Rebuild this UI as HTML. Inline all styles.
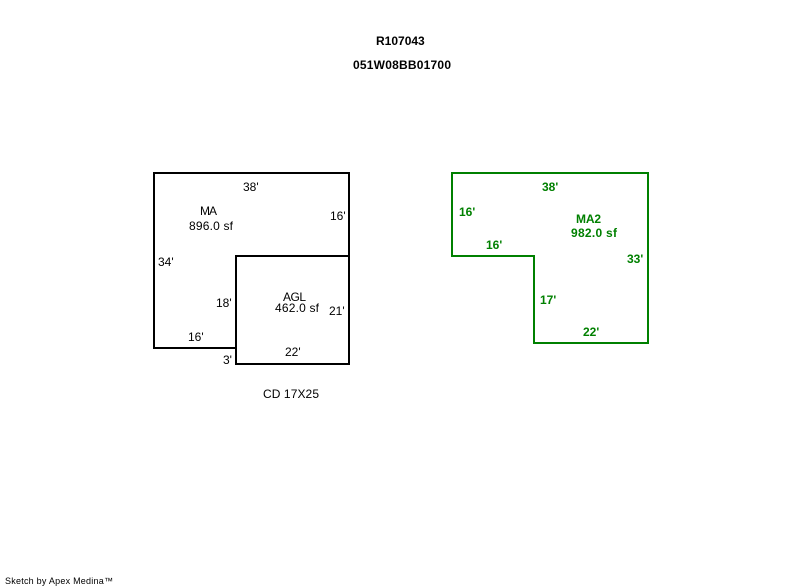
<!DOCTYPE html>
<html>
<head>
<meta charset="utf-8">
<style>
html,body{margin:0;padding:0;background:#fff;width:800px;height:587px;overflow:hidden}
svg{display:block}
text{font-family:"Liberation Sans",Arial,sans-serif;font-size:12px;fill:#000}
.g{fill:#008000;font-weight:bold}
.b{font-weight:bold}
</style>
</head>
<body>
<svg width="800" height="587" viewBox="0 0 800 587" xmlns="http://www.w3.org/2000/svg">
<g fill="none" stroke="#000" stroke-width="2" shape-rendering="crispEdges">
<path d="M154 173H349V364H236V348H154Z"/>
<path d="M236 348V256H349"/>
</g>
<path d="M452 173H648V343H534V256H452Z" fill="none" stroke="#008000" stroke-width="2" shape-rendering="crispEdges"/>
<text class="b" x="376" y="45">R107043</text>
<text class="b" x="353" y="69" textLength="98" lengthAdjust="spacing">051W08BB01700</text>
<text x="243" y="191">38'</text>
<text x="330" y="220">16'</text>
<text x="200" y="215" style="letter-spacing:-1px">MA</text>
<text x="189" y="230" textLength="44" lengthAdjust="spacing">896.0 sf</text>
<text x="158" y="266">34'</text>
<text x="216" y="307">18'</text>
<text x="188" y="341">16'</text>
<text x="223" y="364">3'</text>
<text x="283" y="301" textLength="23" lengthAdjust="spacing">AGL</text>
<text x="275" y="312" textLength="44" lengthAdjust="spacing">462.0 sf</text>
<text x="329" y="315">21'</text>
<text x="285" y="356">22'</text>
<text x="263" y="398" textLength="56" lengthAdjust="spacing">CD 17X25</text>
<text class="g" x="542" y="191">38'</text>
<text class="g" x="459" y="216">16'</text>
<text class="g" x="486" y="249">16'</text>
<text class="g" x="576" y="223" textLength="25" lengthAdjust="spacing">MA2</text>
<text class="g" x="571" y="237" textLength="46" lengthAdjust="spacing">982.0 sf</text>
<text class="g" x="627" y="263">33'</text>
<text class="g" x="540" y="304">17'</text>
<text class="g" x="583" y="336">22'</text>
<text x="5" y="584" style="font-size:9px" textLength="108" lengthAdjust="spacing">Sketch by Apex Medina™</text>
</svg>
</body>
</html>
